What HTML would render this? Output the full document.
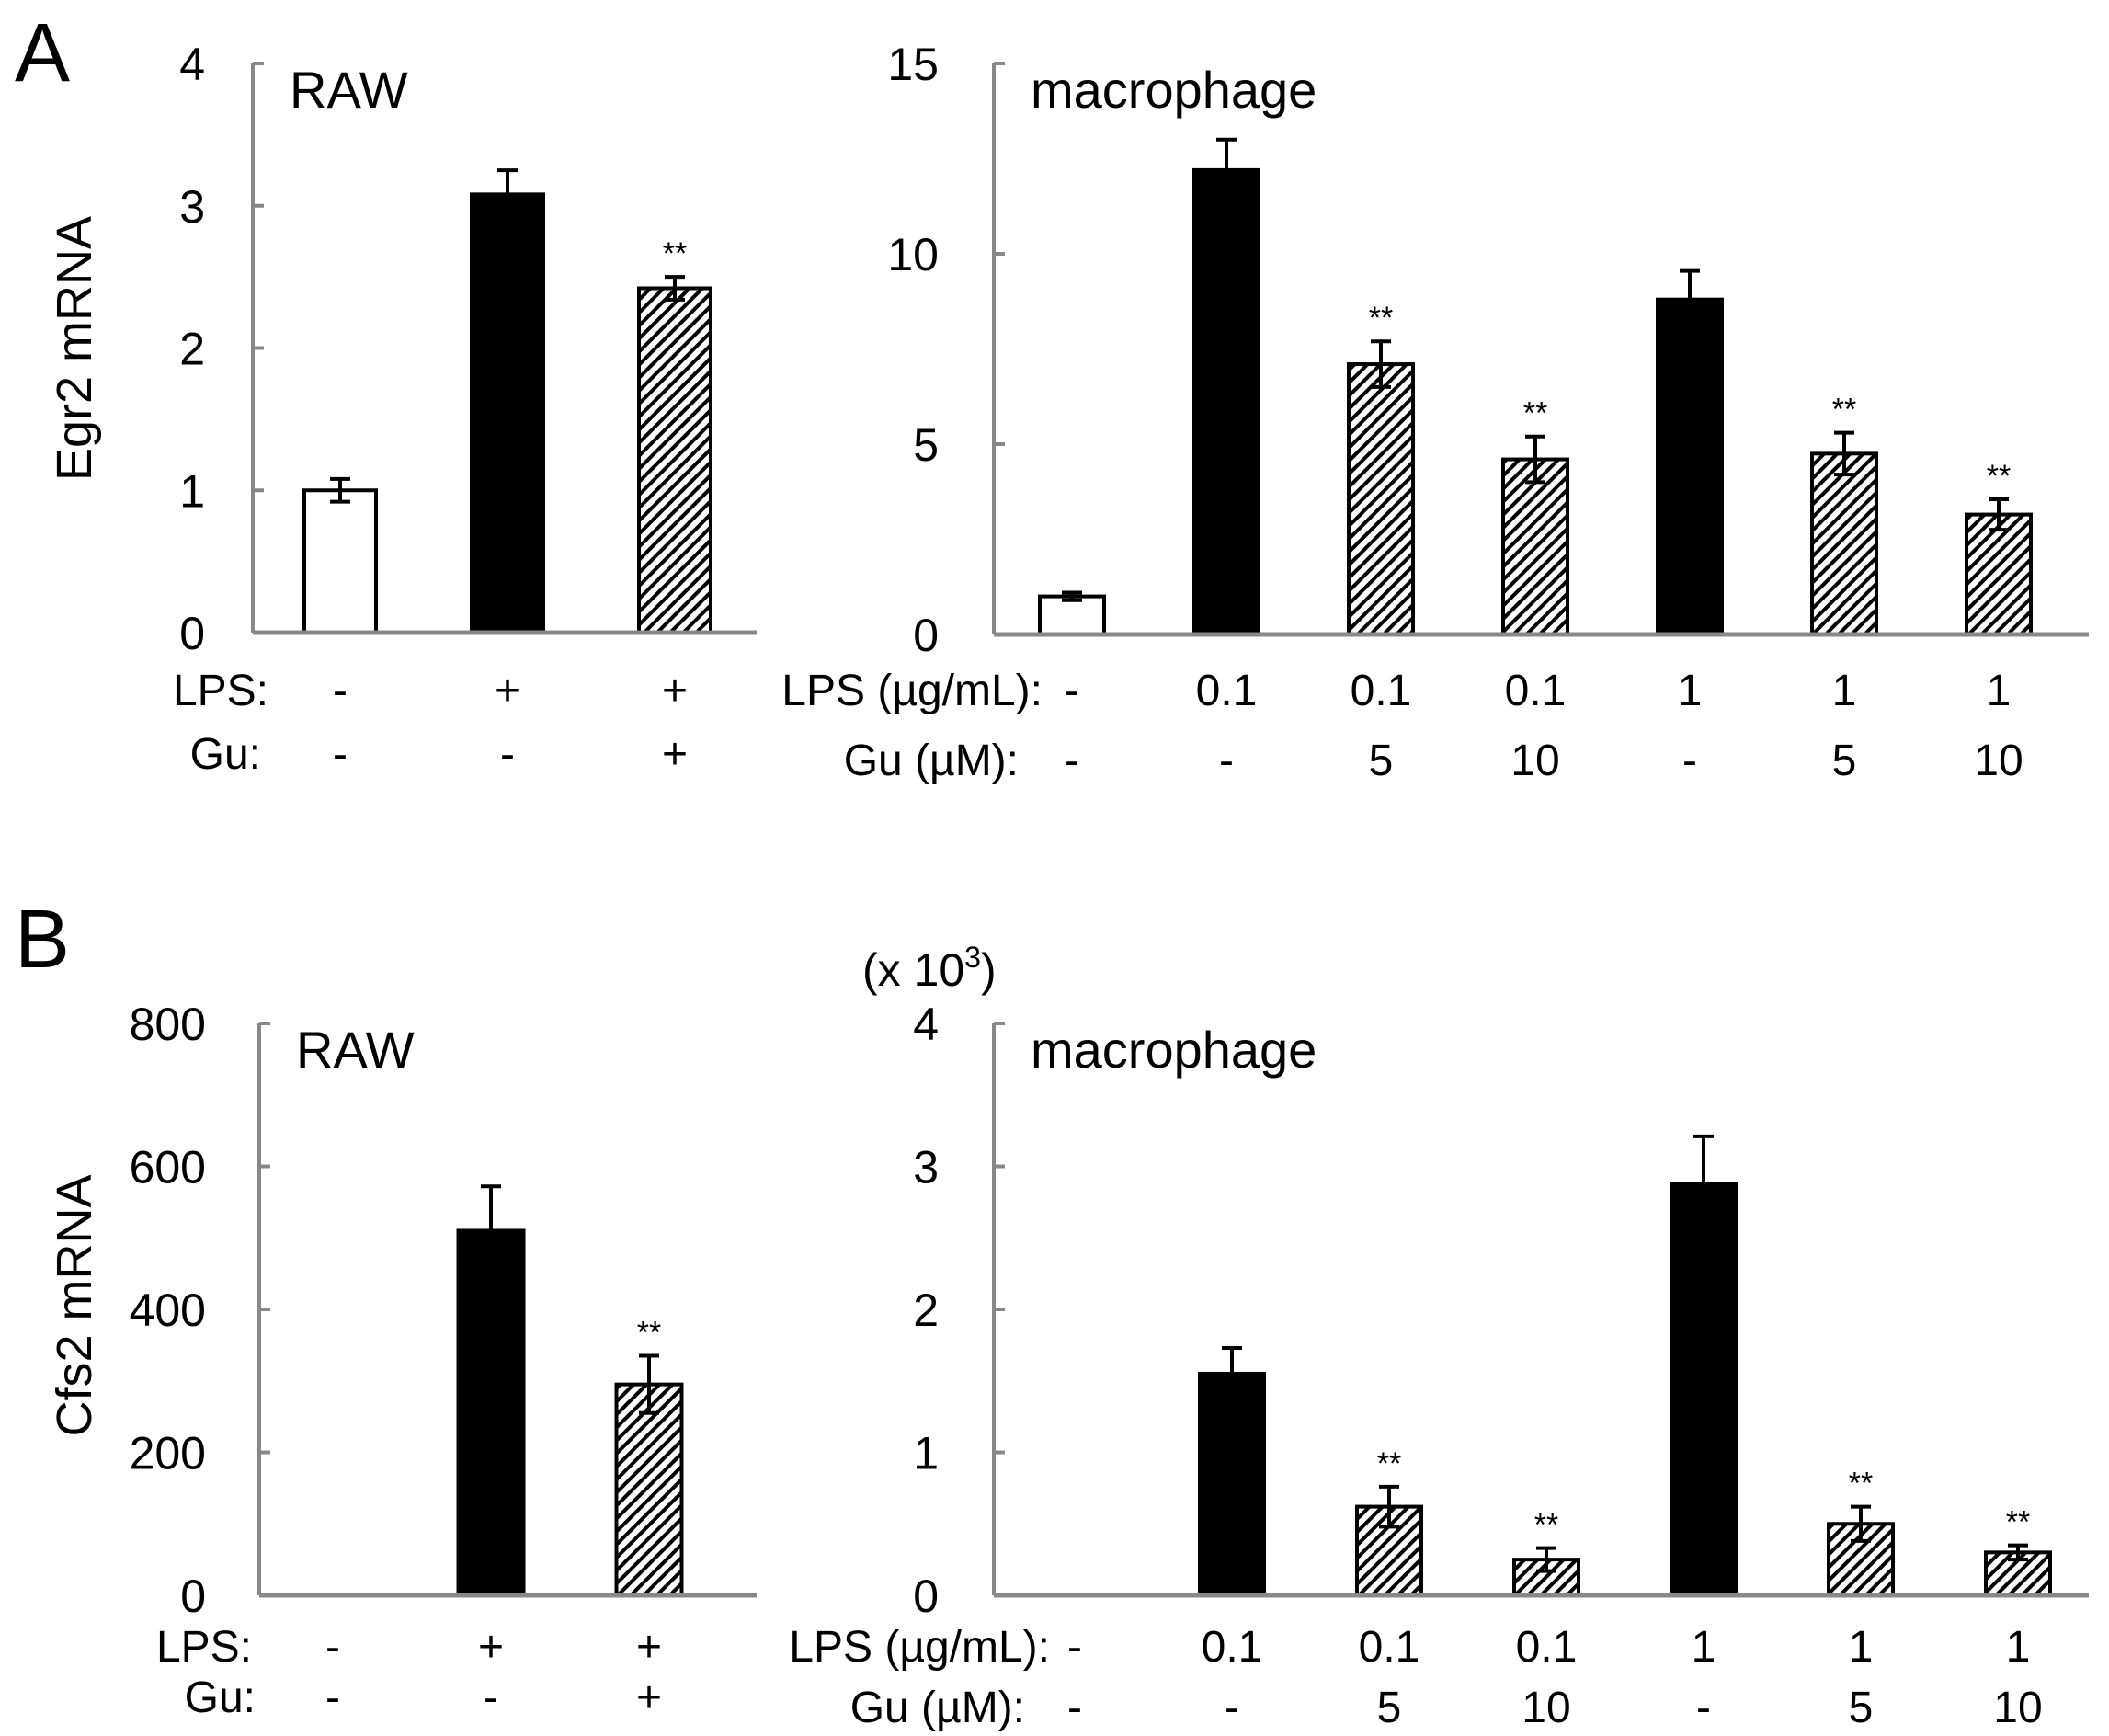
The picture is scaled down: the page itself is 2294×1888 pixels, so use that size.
<!DOCTYPE html>
<html><head><meta charset="utf-8">
<style>
html,body{margin:0;padding:0;background:#fff;}
svg{display:block;font-family:"Liberation Sans",Arial,sans-serif;}
</style></head>
<body>
<svg id="fig" width="2294" height="1888" viewBox="0 0 2294 1888" xmlns="http://www.w3.org/2000/svg">
<defs>
<pattern id="hatch" patternUnits="userSpaceOnUse" width="10" height="10" patternTransform="rotate(45)">
<rect width="10" height="10" fill="#fff"/>
<rect x="0" y="0" width="4" height="10" fill="#000"/>
</pattern>
</defs>
<text x="16" y="88" font-size="90">A</text>
<text x="16" y="1052" font-size="90">B</text>
<text transform="translate(99,379) rotate(-90)" text-anchor="middle" font-size="54">Egr2 mRNA</text>
<text transform="translate(99,1420) rotate(-90)" text-anchor="middle" font-size="54">Cfs2 mRNA</text>
<text x="938" y="1072" font-size="50">(x 10<tspan dy="-20" font-size="32">3</tspan><tspan dy="20">)</tspan></text>
<g id="plots"></g>
</svg>
<script>
// Panel A left (RAW, Egr2)
const aLeftCats = ["ctrl","LPS","LPS+Gu"];
const aLeftVals = [1.0, 3.08, 2.42];
const aLeftErr = [0.08, 0.17, 0.08];
const aLeftTicks = [0,1,2,3,4];
const aLeftLps = ["-","+","+"];
const aLeftGu = ["-","-","+"];
const aLeftSig = ["","","**"];
// Panel A right (macrophage, Egr2)
const aRightCats = ["ctrl","0.1","0.1+5","0.1+10","1","1+5","1+10"];
const aRightVals = [1.0, 12.2, 7.1, 4.6, 8.8, 4.75, 3.15];
const aRightErr = [0.1, 0.8, 0.6, 0.6, 0.75, 0.55, 0.4];
const aRightTicks = [0,5,10,15];
const aRightLps = ["-","0.1","0.1","0.1","1","1","1"];
const aRightGu = ["-","-","5","10","-","5","10"];
const aRightSig = ["","","**","**","","**","**"];
// Panel B left (RAW, Cfs2)
const bLeftCats = ["ctrl","LPS","LPS+Gu"];
const bLeftVals = [0, 510, 295];
const bLeftErr = [0, 62, 40];
const bLeftTicks = [0,200,400,600,800];
const bLeftLps = ["-","+","+"];
const bLeftGu = ["-","-","+"];
const bLeftSig = ["","","**"];
// Panel B right (macrophage, Cfs2, x10^3)
const bRightCats = ["ctrl","0.1","0.1+5","0.1+10","1","1+5","1+10"];
const bRightVals = [0, 1.55, 0.62, 0.25, 2.88, 0.5, 0.3];
const bRightErr = [0, 0.18, 0.14, 0.08, 0.33, 0.12, 0.05];
const bRightTicks = [0,1,2,3,4];
const bRightLps = ["-","0.1","0.1","0.1","1","1","1"];
const bRightGu = ["-","-","5","10","-","5","10"];
const bRightSig = ["","","**","**","","**","**"];
const bRightFill = ["w","b","h","h","b","h","h"];
const aRightFill = ["w","b","h","h","b","h","h"];
const leftFill = ["w","b","h"];

const NS = "http://www.w3.org/2000/svg";
const root = document.getElementById("plots");
function mk(tag, attrs, parent){
  const e = document.createElementNS(NS, tag);
  for (const k in attrs) e.setAttribute(k, attrs[k]);
  (parent||root).appendChild(e);
  return e;
}
function panel(cfg){
  const g = mk("g", {});
  
  
  const max = cfg.ticks[cfg.ticks.length-1];
  const y = v => cfg.y0 - (v/max)*(cfg.y0-cfg.yTop);
  const x = i => cfg.x0c + i*cfg.step;
  const ax = mk("line",{x1:cfg.ax,y1:cfg.yTop,x2:cfg.ax,y2:cfg.y0,stroke:"#888","stroke-width":4},g);
  
  
  cfg.ticks.forEach(t=>{
    const tl = mk("line",{x1:cfg.ax,y1:y(t),x2:cfg.ax+12,y2:y(t),stroke:"#888","stroke-width":4},g);
    
    
    const tt = mk("text",{x:cfg.ax-cfg.labGap,y:y(t)+18,"text-anchor":"end","font-size":50},g);
    tt.textContent = t;
    
    
  });
  const title = mk("text",{x:cfg.ax+40,y:cfg.yTop+48,"font-size":56},g);
  title.textContent = cfg.title;
  
  
  cfg.vals.forEach((v,i)=>{
    const cx = x(i), w = cfg.bw;
    const f = cfg.fill[i];
    if (v>0){
      const r = mk("rect",{x:cx-w/2,y:y(v),width:w,height:cfg.y0-y(v),
        fill: f==="b"?"#000":(f==="h"?"url(#hatch)":"#fff"),stroke:"#000","stroke-width":4},g);
      
      
      const e = cfg.err[i];
      const lo = f==="b" ? v : v-e;
      const eb = mk("path",{d:`M${cx},${y(lo)}V${y(v+e)}M${cx-11},${y(v+e)}H${cx+11}`+(f==="b"?"":`M${cx-11},${y(v-e)}H${cx+11}`),stroke:"#000","stroke-width":4,fill:"none"},g);
      
      
      if (cfg.sig[i]){
        const s = mk("text",{x:cx,y:y(v+e)-14,"text-anchor":"middle","font-size":34},g);
        s.textContent = cfg.sig[i];
        
        
      }
    }
  });
  const xa = mk("line",{x1:cfg.ax,y1:cfg.y0,x2:cfg.axEnd,y2:cfg.y0,stroke:"#888","stroke-width":5},g);
  
  
  [[cfg.lpsLabel,cfg.lps,cfg.rowY1,cfg.lpsRight],[cfg.guLabel,cfg.gu,cfg.rowY2,cfg.guRight]].forEach(([lab,arr,ry,rx])=>{
    const l = mk("text",{x:rx,y:ry+17,"text-anchor":"end","font-size":48},g);
    l.textContent = lab;
    
    
    arr.forEach((s,i)=>{
      const t = mk("text",{x:x(i),y:ry+17,"text-anchor":"middle","font-size":48},g);
      t.textContent = s;
      
      
    });
  });
}
panel({name:"egr2-raw-chart",title:"RAW",cats:aLeftCats,vals:aLeftVals,err:aLeftErr,ticks:aLeftTicks,sig:aLeftSig,fill:leftFill,
  lps:aLeftLps,gu:aLeftGu,lpsLabel:"LPS:",guLabel:"Gu:",ax:275,axEnd:823,yTop:69,y0:688,x0c:370,step:182,bw:78,labGap:52,
  rowY1:750,rowY2:819,lpsRight:292,guRight:284});
panel({name:"egr2-macrophage-chart",title:"macrophage",cats:aRightCats,vals:aRightVals,err:aRightErr,ticks:aRightTicks,sig:aRightSig,fill:aRightFill,
  lps:aRightLps,gu:aRightGu,lpsLabel:"LPS (\u00b5g/mL):",guLabel:"Gu (\u00b5M):",ax:1081,axEnd:2272,yTop:69,y0:690,x0c:1166,step:168,bw:70,labGap:60,
  rowY1:750,rowY2:826,lpsRight:1134,guRight:1108});
panel({name:"cfs2-raw-chart",title:"RAW",cats:bLeftCats,vals:bLeftVals,err:bLeftErr,ticks:bLeftTicks,sig:bLeftSig,fill:leftFill,
  lps:bLeftLps,gu:bLeftGu,lpsLabel:"LPS:",guLabel:"Gu:",ax:282,axEnd:823,yTop:1113,y0:1735,x0c:362,step:172,bw:71,labGap:58,
  rowY1:1790,rowY2:1845,lpsRight:274,guRight:278});
panel({name:"cfs2-macrophage-chart",title:"macrophage",cats:bRightCats,vals:bRightVals,err:bRightErr,ticks:bRightTicks,sig:bRightSig,fill:bRightFill,
  lps:bRightLps,gu:bRightGu,lpsLabel:"LPS (\u00b5g/mL):",guLabel:"Gu (\u00b5M):",ax:1081,axEnd:2272,yTop:1113,y0:1735,x0c:1169,step:171,bw:70,labGap:60,
  rowY1:1790,rowY2:1856,lpsRight:1142,guRight:1115});
</script>
</body></html>
